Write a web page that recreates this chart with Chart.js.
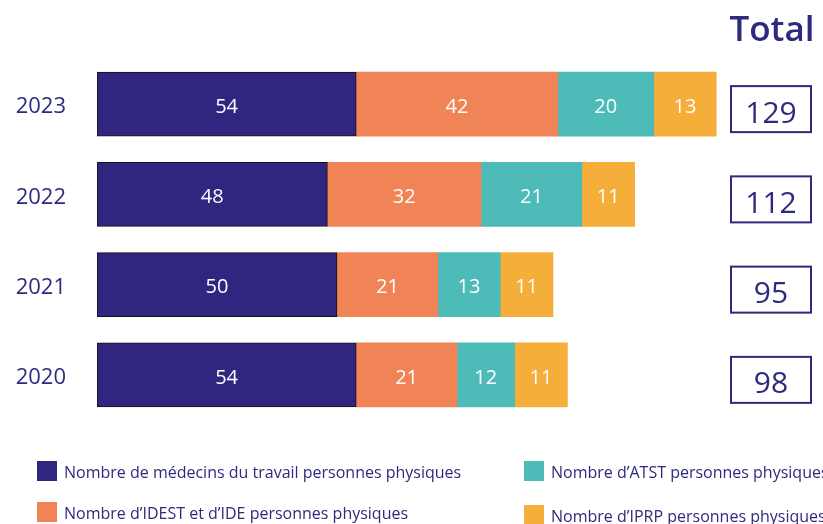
<!DOCTYPE html>
<html>
<head>
<meta charset="utf-8">
<script src="https://cdn.jsdelivr.net/npm/chart.js@4.4.0/dist/chart.umd.min.js"></script>
<style>
  body { margin: 0; background: #fff; }
  #wrap { width: 823px; height: 524px; }
</style>
</head>
<body>
<div id="wrap"><canvas id="c" width="823" height="524"></canvas></div>
<script>
const years = ['2023', '2022', '2021', '2020'];
const medecins = [54, 48, 50, 54];
const idest = [42, 32, 21, 21];
const atst = [20, 21, 13, 12];
const iprp = [13, 11, 11, 11];
const seriesNames = [
  'Nombre de médecins du travail personnes physiques',
  "Nombre d\u2019IDEST et d\u2019IDE personnes physiques",
  "Nombre d\u2019ATST personnes physiques",
  "Nombre d\u2019IPRP personnes physiques"
];
const seriesColors = ['#30267f', '#f08456', '#4dbbb8', '#f5ae3a'];
const totalLabel = 'Total';

const navy = '#2e2a7d';
const FONT = "'Open Sans', sans-serif";
const totals = years.map((y, i) => medecins[i] + idest[i] + atst[i] + iprp[i]);

// valeurs au centre des barres
const barLabels = {
  id: 'barLabels',
  afterDatasetsDraw(chart) {
    const ctx = chart.ctx;
    ctx.save();
    ctx.fillStyle = '#fff';
    ctx.font = '20px ' + FONT;
    ctx.textAlign = 'center';
    ctx.textBaseline = 'middle';
    chart.data.datasets.forEach((ds, di) => {
      chart.getDatasetMeta(di).data.forEach((el, i) => {
        ctx.fillText(ds.data[i], (el.x + el.base) / 2, el.y + 3);
      });
    });
    ctx.restore();
  }
};

// années, colonne Total + légende
const extras = {
  id: 'extras',
  afterDraw(chart) {
    const ctx = chart.ctx;
    const yScale = chart.scales.y;
    ctx.save();
    ctx.fillStyle = navy;
    ctx.textBaseline = 'middle';

    ctx.font = '22px ' + FONT;
    ctx.textAlign = 'right';
    years.forEach((y, i) => {
      ctx.fillText(y, 66, yScale.getPixelForValue(i) + 3);
    });

    ctx.textAlign = 'center';
    ctx.font = '600 35px ' + FONT;
    ctx.fillText(totalLabel, 772, 31);

    ctx.strokeStyle = navy;
    ctx.lineWidth = 2;
    ctx.font = '30px ' + FONT;
    totals.forEach((t, i) => {
      const cy = yScale.getPixelForValue(i) + 5;
      ctx.strokeRect(731, cy - 23, 80, 46);
      ctx.fillText(t, 771, cy + 5);
    });

    // légende (2 colonnes)
    const slots = [
      { x: 37, y: 461 }, { x: 37, y: 502 },
      { x: 524, y: 461 }, { x: 524, y: 505 }
    ];
    ctx.font = '16px ' + FONT;
    ctx.textAlign = 'left';
    seriesNames.forEach((name, i) => {
      const s = slots[i];
      ctx.fillStyle = seriesColors[i];
      ctx.fillRect(s.x, s.y, 20, 20);
      ctx.fillStyle = navy;
      ctx.fillText(name, s.x + 27, s.y + 12);
    });
    ctx.restore();
  }
};

new Chart(document.getElementById('c').getContext('2d'), {
  type: 'bar',
  data: {
    labels: years,
    datasets: [
      { label: seriesNames[0], data: medecins, backgroundColor: seriesColors[0], borderColor: '#111', borderWidth: 1, borderSkipped: false },
      { label: seriesNames[1], data: idest, backgroundColor: seriesColors[1], borderWidth: 0 },
      { label: seriesNames[2], data: atst, backgroundColor: seriesColors[2], borderWidth: 0 },
      { label: seriesNames[3], data: iprp, backgroundColor: seriesColors[3], borderWidth: 0 }
    ]
  },
  options: {
    indexAxis: 'y',
    responsive: false,
    animation: false,
    barThickness: 64,
    layout: { padding: { top: 59, bottom: 104, left: 0, right: 6 } },
    scales: {
      x: { stacked: true, min: 0, max: 150, display: false },
      y: {
        stacked: true,
        grid: { display: false, drawTicks: false },
        border: { display: false },
        ticks: { display: false },
        afterFit(scale) { scale.width = 97; }
      }
    },
    plugins: {
      legend: { display: false },
      tooltip: { enabled: false }
    }
  },
  plugins: [barLabels, extras]
});
</script>
</body>
</html>
